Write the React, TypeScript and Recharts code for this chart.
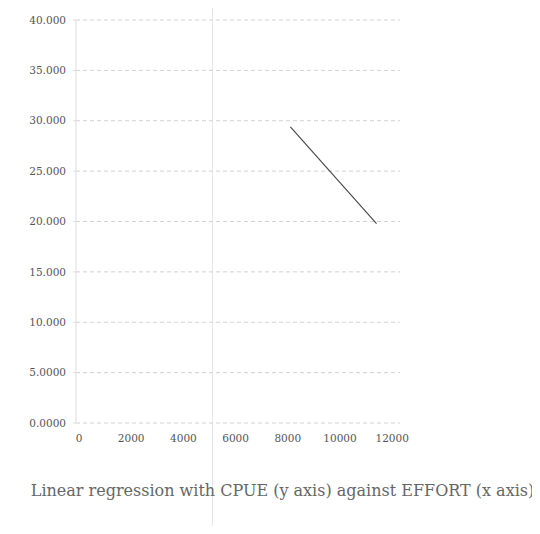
import { LineChart, Line, XAxis, YAxis, CartesianGrid } from "recharts";

const effort = [8100, 11400];
const cpue = [29.4, 19.8];
const xTicks = [0, 2000, 4000, 6000, 8000, 10000, 12000];
const yTicks = [0, 5, 10, 15, 20, 25, 30, 35, 40];
const caption = "Linear regression with CPUE (y axis) against EFFORT (x axis)";

const data = effort.map((x, i) => ({ effort: x, cpue: cpue[i] }));

const tickStyle = { fontSize: 10.5, fill: "#555", fontFamily: "DejaVu Serif" };

export default function App() {
  return (
    <div style={{ position: "relative", width: 540, height: 534, background: "#fff", margin: -8 }}>
      {/* faint fold line from the scan */}
      <div style={{ position: "absolute", left: 212, top: 0, width: 1, height: 534, background: "#e6e6e6" }} />
      <LineChart
        width={540}
        height={460}
        data={data}
        margin={{ top: 20, right: 140, left: 0, bottom: 7 }}
      >
        <CartesianGrid vertical={false} stroke="#d2d2d2" strokeDasharray="4 3" />
        <XAxis
          type="number"
          dataKey="effort"
          domain={[0, 12300]}
          ticks={xTicks}
          tick={tickStyle}
          tickLine={false}
          axisLine={false}
          height={30}
          tickMargin={6}
          padding={{ left: 3, right: 0 }}
        />
        <YAxis
          type="number"
          domain={[0, 40]}
          ticks={yTicks}
          tick={tickStyle}
          tickFormatter={(v: number) => v.toPrecision(5)}
          width={76}
          tickLine={{ stroke: "#ddd" }}
          tickSize={3}
          tickMargin={7}
          axisLine={{ stroke: "#ddd" }}
        />
        <Line
          dataKey="cpue"
          stroke="#444"
          strokeWidth={1.1}
          dot={false}
          isAnimationActive={false}
        />
      </LineChart>
      <div
        style={{
          position: "absolute",
          top: 481,
          left: 0,
          width: 565,
          textAlign: "center",
          fontFamily: "DejaVu Serif",
          fontSize: 16,
          color: "#666",
        }}
      >
        {caption}
      </div>
    </div>
  );
}
